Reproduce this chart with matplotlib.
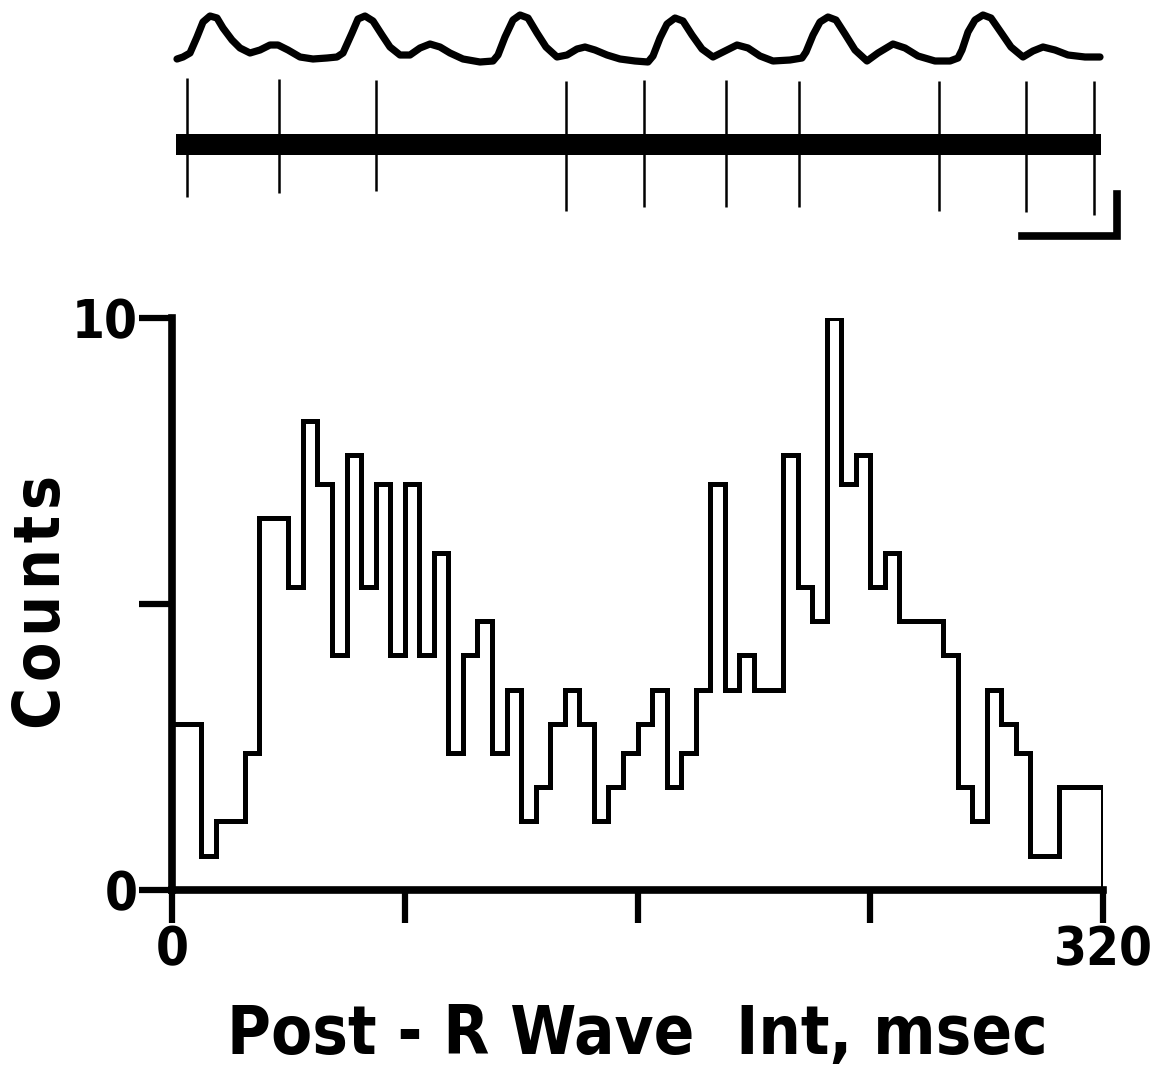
import numpy as np
import matplotlib
matplotlib.use("Agg")
import matplotlib.pyplot as plt

# histogram, 5 msec bins from 0 to 320 msec (values read in axis units 0-10)
bin_width = 5
counts = [2.9, 2.9, 0.6, 1.2, 1.2, 2.4, 6.5, 6.5, 5.3, 8.2, 7.1, 4.1, 7.6, 5.3, 7.1, 4.1,
          7.1, 4.1, 5.9, 2.4, 4.1, 4.7, 2.4, 3.5, 1.2, 1.8, 2.9, 3.5, 2.9, 1.2, 1.8, 2.4,
          2.9, 3.5, 1.8, 2.4, 3.5, 7.1, 3.5, 4.1, 3.5, 3.5, 7.6, 5.3, 4.7, 10.0, 7.1, 7.6,
          5.3, 5.9, 4.7, 4.7, 4.7, 4.1, 1.8, 1.2, 3.5, 2.9, 2.4, 0.6, 0.6, 1.8, 1.8, 1.8]
x_ticks = [0, 80, 160, 240, 320]
x_ticklabels = ["0", "", "", "", "320"]
y_ticks = [0, 5, 10]
y_ticklabels = ["0", "", "10"]

# upper record (image px coords): ECG trace and unit spikes
ecg_x = [177, 183, 190, 197, 203, 210, 217, 223, 232, 240, 250, 260, 270, 278, 288, 300, 313, 327, 337, 343,
         352, 358, 365, 373, 382, 390, 400, 410, 420, 430, 440, 450, 463, 480, 493, 498,
         505, 513, 520, 528, 537, 546, 557, 567, 577, 585, 595, 607, 620, 635, 648, 653,
         660, 667, 675, 683, 692, 702, 713, 723, 737, 748, 760, 773, 790, 802, 806,
         813, 820, 828, 836, 845, 855, 867, 878, 893, 905, 918, 935, 950, 958, 962,
         968, 975, 983, 991, 1000, 1011, 1023, 1033, 1043, 1055, 1068, 1085, 1100]
ecg_y = [59, 57, 53, 37, 22, 16, 18, 28, 40, 48, 53, 50, 45, 45, 50, 57, 59, 58, 57, 53,
         33, 19, 16, 21, 35, 47, 55, 55, 48, 44, 47, 53, 59, 62, 61, 55,
         37, 20, 15, 18, 33, 47, 57, 55, 49, 47, 50, 55, 59, 61, 62, 56,
         38, 24, 18, 21, 35, 49, 57, 52, 45, 48, 56, 61, 60, 58, 52,
         35, 22, 17, 20, 34, 50, 61, 53, 44, 48, 56, 61, 61, 58, 50,
         32, 20, 15, 18, 31, 47, 57, 51, 47, 50, 55, 57, 57]
spike_x = [187, 279, 376, 566, 644, 726, 799, 939, 1026, 1094]
spike_top = [78, 79, 80, 81, 80, 80, 81, 81, 81, 81]
spike_bottom = [197, 193, 191, 211, 207, 207, 207, 211, 212, 215]

W, H = 1159, 1076
fig = plt.figure(figsize=(W / 100, H / 100), dpi=100)
fnt = dict(family="DejaVu Sans", stretch="condensed", weight="bold")

# --- top record ---
top = fig.add_axes([0, 1 - 260 / H, 1, 260 / H])
top.set_xlim(0, W)
top.set_ylim(260, 0)
top.axis("off")
top.plot(ecg_x, ecg_y, color="black", lw=5.2, solid_capstyle="round", solid_joinstyle="round")
top.fill_between([176, 1101], [134, 134], [155, 155], color="black", lw=0)
top.vlines(spike_x, spike_top, spike_bottom, color="black", lw=1.8)
# calibration bar
top.plot([1022, 1117, 1117], [236, 236, 194], color="black", lw=5.5, solid_joinstyle="miter")

# --- histogram ---
ax = fig.add_axes([172 / W, 186 / H, (1103 - 172) / W, (890 - 318) / H])
edges = np.arange(0, 320 + bin_width, bin_width)
ax.stairs(counts, edges, baseline=0, color="black", lw=3.6)
ax.set_xlim(0, 320)
ax.set_ylim(0, 10)
for s in ["top", "right"]:
    ax.spines[s].set_visible(False)
for s in ["left", "bottom"]:
    ax.spines[s].set_linewidth(5.5)
ax.set_xticks(x_ticks)
ax.set_xticklabels(x_ticklabels, fontsize=38, **fnt)
ax.set_yticks(y_ticks)
ax.set_yticklabels(y_ticklabels, fontsize=38, **fnt)
ax.tick_params(axis="both", length=24, width=4.5, direction="out", pad=1)

ax.set_xlabel("Post - R Wave  Int, msec", fontsize=48, labelpad=18, **fnt)
fig.text(42 / W, 1 - 602 / H, "\u200a".join("Counts"), rotation=90, fontsize=46,
         ha="center", va="center", **fnt)

fig.savefig("out.png", dpi=100)
